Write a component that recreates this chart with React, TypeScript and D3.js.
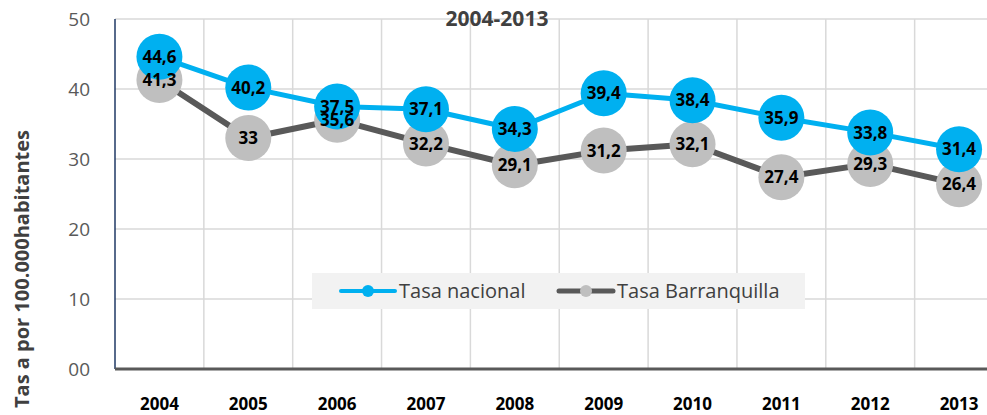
import * as d3 from "d3";
import { useEffect, useRef } from "react";

const years = ["2004", "2005", "2006", "2007", "2008", "2009", "2010", "2011", "2012", "2013"];
const tasaNacional = [44.6, 40.2, 37.5, 37.1, 34.3, 39.4, 38.4, 35.9, 33.8, 31.4];
const tasaBarranquilla = [41.3, 33, 35.6, 32.2, 29.1, 31.2, 32.1, 27.4, 29.3, 26.4];
const yTicks = [0, 10, 20, 30, 40, 50];
const seriesNames = ["Tasa nacional", "Tasa Barranquilla"];

const App = () => {
  const ref = useRef<HTMLDivElement>(null);

  useEffect(() => {
    document.body.style.margin = "0";
    const width = 987;
    const height = 415;
    const left = 115;
    const top = 19;
    const bottom = 369;
    const step = 88.85;
    const sans = "'Open Sans', 'Noto Sans', sans-serif";

    d3.select(ref.current).select("svg").remove();
    const svg = d3
      .select(ref.current)
      .append("svg")
      .attr("width", width)
      .attr("height", height)
      .style("display", "block");

    svg.append("rect").attr("width", width).attr("height", height).attr("fill", "white");

    const x = d3
      .scaleBand()
      .domain(years)
      .range([left, left + step * years.length]);
    const y = d3.scaleLinear().domain([0, 50]).range([bottom, top]);
    const cx = (d: string) => (x(d) as number) + x.bandwidth() / 2;

    // grid
    const grid = svg.append("g");
    grid
      .selectAll(".h")
      .data(yTicks.filter((t) => t > 0))
      .join("line")
      .attr("x1", left)
      .attr("x2", width)
      .attr("y1", (d) => y(d))
      .attr("y2", (d) => y(d))
      .attr("stroke", "#d9d9d9")
      .attr("stroke-width", 1.5);
    grid
      .selectAll(".v")
      .data(years.slice(1))
      .join("line")
      .attr("x1", (d) => x(d) as number)
      .attr("x2", (d) => x(d) as number)
      .attr("y1", top)
      .attr("y2", bottom)
      .attr("stroke", "#d9d9d9")
      .attr("stroke-width", 1.5);

    // axes
    svg
      .append("line")
      .attr("x1", left)
      .attr("x2", left)
      .attr("y1", top)
      .attr("y2", bottom)
      .attr("stroke", "#1f3864")
      .attr("stroke-width", 1.5);
    svg
      .append("line")
      .attr("x1", left)
      .attr("x2", width)
      .attr("y1", bottom)
      .attr("y2", bottom)
      .attr("stroke", "#595959")
      .attr("stroke-width", 3);

    svg
      .append("g")
      .selectAll("text")
      .data(yTicks)
      .join("text")
      .attr("x", 90)
      .attr("y", (d) => y(d))
      .attr("dy", "0.35em")
      .attr("text-anchor", "end")
      .attr("font-family", sans)
      .attr("font-size", 19)
      .attr("fill", "#595959")
      .text((d) => (d === 0 ? "00" : String(d)));

    svg
      .append("g")
      .selectAll("text")
      .data(years)
      .join("text")
      .attr("x", (d) => cx(d))
      .attr("y", 410)
      .attr("text-anchor", "middle")
      .attr("font-family", sans)
      .attr("font-weight", "bold")
      .attr("font-size", 17)
      .attr("fill", "#000")
      .text((d) => d);

    svg
      .append("text")
      .attr("transform", "translate(29,269) rotate(-90)")
      .attr("text-anchor", "middle")
      .attr("font-family", sans)
      .attr("font-weight", "bold")
      .attr("font-size", 20)
      .attr("fill", "#404040")
      .text("Tas a por 100.000habitantes");

    svg
      .append("text")
      .attr("x", 497)
      .attr("y", 26)
      .attr("text-anchor", "middle")
      .attr("font-family", sans)
      .attr("font-weight", "bold")
      .attr("font-size", 21)
      .attr("fill", "#404040")
      .text("2004-2013");

    // legend
    const lg = svg.append("g");
    lg.append("rect")
      .attr("x", 312)
      .attr("y", 273)
      .attr("width", 493)
      .attr("height", 36)
      .attr("fill", "#f2f2f2");
    const legendItems = [
      { name: seriesNames[0], line: "#00b0f0", dot: "#00b0f0", x: 341, w: 4 },
      { name: seriesNames[1], line: "#595959", dot: "#bfbfbf", x: 559, w: 5 },
    ];
    legendItems.forEach((it) => {
      lg.append("line")
        .attr("x1", it.x)
        .attr("x2", it.x + 54)
        .attr("y1", 291)
        .attr("y2", 291)
        .attr("stroke", it.line)
        .attr("stroke-width", it.w)
        .attr("stroke-linecap", "round");
      lg.append("circle")
        .attr("cx", it.x + 27)
        .attr("cy", 291)
        .attr("r", 6)
        .attr("fill", it.dot);
      lg.append("text")
        .attr("x", it.x + 58)
        .attr("y", 291)
        .attr("dy", "0.35em")
        .attr("font-family", sans)
        .attr("font-size", 20)
        .attr("fill", "#404040")
        .text(it.name);
    });

    // series
    const series = [
      { values: tasaBarranquilla, line: "#595959", dot: "#bfbfbf", w: 6 },
      { values: tasaNacional, line: "#00b0f0", dot: "#00b0f0", w: 5 },
    ];
    const line = d3
      .line<number>()
      .x((d, i) => cx(years[i]))
      .y((d) => y(d));

    const drawLabels = (s: typeof series[0]) => {
      svg
        .append("g")
        .selectAll("text")
        .data(s.values)
        .join("text")
        .attr("x", (d, i) => cx(years[i]))
        .attr("y", (d) => y(d))
        .attr("dy", "0.36em")
        .attr("text-anchor", "middle")
        .attr("font-family", sans)
        .attr("font-weight", "bold")
        .attr("font-size", 17)
        .attr("fill", "#000")
        .text((d) => String(d).replace(".", ","));
    };

    series.forEach((s) => {
      svg
        .append("path")
        .attr("d", line(s.values))
        .attr("fill", "none")
        .attr("stroke", s.line)
        .attr("stroke-width", s.w)
        .attr("stroke-linejoin", "round");
      svg
        .append("g")
        .selectAll("circle")
        .data(s.values)
        .join("circle")
        .attr("cx", (d, i) => cx(years[i]))
        .attr("cy", (d) => y(d))
        .attr("r", 23)
        .attr("fill", s.dot);
    });
    series.forEach(drawLabels);
  }, []);

  return <div ref={ref}></div>;
};

export default App;
